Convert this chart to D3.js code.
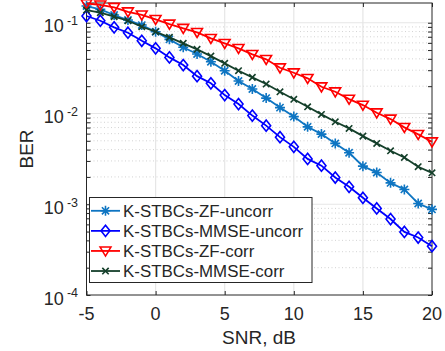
<!DOCTYPE html>
<html>
<head>
<meta charset="utf-8">
<script src="https://cdn.jsdelivr.net/npm/d3@7"></script>
<style>
html,body{margin:0;padding:0;background:#fff;}
svg{display:block;}
text{font-family:"Liberation Sans",Arial,Helvetica,sans-serif;fill:#262626;}
</style>
</head>
<body>
<svg id="chart" width="445" height="351"></svg>
<script>
const snr = d3.range(-5, 21, 1);
const zfUncorr = [0.1528,0.1405,0.1216,0.1071,0.0943,0.0796,0.0656,0.0536,0.0452,0.0372,0.0296,0.0228,0.0186,0.01478,0.01161,0.00924,0.00713,0.00593,0.00468,0.00369,0.00263,0.00224,0.00172,0.001456,0.00102,0.000877];
const mmseUncorr = [0.1186,0.1052,0.089,0.0776,0.0633,0.0522,0.0415,0.0342,0.0258,0.0215,0.01595,0.0127,0.00948,0.00735,0.00549,0.00429,0.00316,0.00266,0.00197,0.001556,0.001177,0.000899,0.000687,0.000496,0.00043,0.000345];
const zfCorr = [0.163,0.157,0.148,0.132,0.122,0.109,0.0968,0.0868,0.0784,0.0673,0.0593,0.0522,0.0448,0.0395,0.0319,0.0281,0.0244,0.0197,0.01735,0.0144,0.01238,0.01018,0.00868,0.00703,0.00588,0.00488];
const mmseCorr = [0.138,0.129,0.1165,0.1052,0.0903,0.0796,0.069,0.0593,0.0509,0.0429,0.0357,0.0296,0.025,0.0211,0.01735,0.01434,0.01186,0.00977,0.0081,0.00685,0.00563,0.00468,0.00388,0.00328,0.00259,0.00222];
const seriesNames = ["K-STBCs-ZF-uncorr","K-STBCs-MMSE-uncorr","K-STBCs-ZF-corr","K-STBCs-MMSE-corr"];
const xTicks = [-5,0,5,10,15,20];
const yTicks = [1e-4,1e-3,1e-2,1e-1];
const yTickExp = ["-4","-3","-2","-1"];

const series = [
  {name:seriesNames[0], values:zfUncorr, color:"#0e75c2", marker:"star"},
  {name:seriesNames[1], values:mmseUncorr, color:"#0000ff", marker:"diamond"},
  {name:seriesNames[2], values:zfCorr, color:"#ff0000", marker:"tri"},
  {name:seriesNames[3], values:mmseCorr, color:"#143f2a", marker:"x"}
];

const L = 86.5, R = 432, T = 3, B = 295;
const x = d3.scaleLinear().domain([-5,20]).range([L,R]);
const y = d3.scaleLog().domain([1e-4, Math.pow(10,-0.7825)]).range([B,T]);

const svg = d3.select("#chart");

// minor grid
const minorVals = [];
for (let e=-4; e<=-1; e++) for (let m=2; m<=9; m++) { const v=m*Math.pow(10,e); if (v<=y.domain()[1]) minorVals.push(v); }
svg.append("g").selectAll("line").data(minorVals).join("line")
  .attr("x1",L).attr("x2",R).attr("y1",d=>y(d)).attr("y2",d=>y(d))
  .attr("stroke","#c8c8c8").attr("stroke-width",0.8).attr("stroke-dasharray","1,2.5");
// major grid
svg.append("g").selectAll("line").data(yTicks.slice(1)).join("line")
  .attr("x1",L).attr("x2",R).attr("y1",d=>y(d)).attr("y2",d=>y(d))
  .attr("stroke","#e6e6e6").attr("stroke-width",1.2);
svg.append("g").selectAll("line").data(xTicks.slice(1,-1)).join("line")
  .attr("x1",d=>x(d)).attr("x2",d=>x(d)).attr("y1",T).attr("y2",B)
  .attr("stroke","#e6e6e6").attr("stroke-width",1.2);

// axes via d3 axis (inward ticks)
const axC = "#262626";
function styleAxis(g){ g.select(".domain").remove(); g.selectAll("line").attr("stroke",axC); g.selectAll("text").remove(); }
svg.append("g").attr("transform",`translate(0,${B})`).call(d3.axisBottom(x).tickValues(xTicks).tickSize(-4)).call(styleAxis);
svg.append("g").attr("transform",`translate(0,${T})`).call(d3.axisTop(x).tickValues(xTicks).tickSize(-4)).call(styleAxis);
const allY = yTicks.concat(minorVals);
svg.append("g").attr("transform",`translate(${L},0)`).call(d3.axisLeft(y).tickValues(allY).tickSize(-4)).call(styleAxis);
svg.append("g").attr("transform",`translate(${R},0)`).call(d3.axisRight(y).tickValues(allY).tickSize(-4)).call(styleAxis);
svg.append("rect").attr("x",L).attr("y",T).attr("width",R-L).attr("height",B-T)
  .attr("fill","none").attr("stroke",axC).attr("stroke-width",1);

// tick labels
svg.append("g").selectAll("text").data(xTicks).join("text")
  .attr("x",d=>x(d)).attr("y",320).attr("text-anchor","middle")
  .attr("font-size",18).text(d=>String(d));
const yl = svg.append("g").selectAll("text").data(yTicks).join("text")
  .attr("x",78).attr("y",d=>y(d)+9.7).attr("text-anchor","end").attr("font-size",18);
yl.append("tspan").text("10");
yl.append("tspan").attr("dx",3).attr("dy",-7.4).attr("font-size",12.5).text((d,i)=>yTickExp[i]);

// axis titles
svg.append("text").attr("x",259).attr("y",344).attr("text-anchor","middle").attr("font-size",19).text("SNR, dB");
svg.append("text").attr("transform","translate(33,149) rotate(-90)").attr("text-anchor","middle").attr("font-size",19).text("BER");

// markers
function markerPath(type){
  switch(type){
    case "star": { const r=5, a=3.6; return `M${-r},0H${r}M0,${-r}V${r}M${-a},${-a}L${a},${a}M${-a},${a}L${a},${-a}`; }
    case "diamond": return "M0,-5.6L4.5,0L0,5.6L-4.5,0Z";
    case "tri": return "M-5.4,-3.9L5.4,-3.9L0,5.1Z";
    case "x": { const a=3.2; return `M${-a},${-a}L${a},${a}M${-a},${a}L${a},${-a}`; }
  }
}

const line = d3.line().x((d,i)=>x(snr[i])).y(d=>y(d));
const plot = svg.append("g");
series.forEach(s=>{
  const g = plot.append("g");
  g.append("path").attr("d",line(s.values)).attr("fill","none").attr("stroke",s.color).attr("stroke-width",1.8);
  g.selectAll("path.m").data(s.values).join("path").attr("class","m")
    .attr("transform",(d,i)=>`translate(${x(snr[i])},${y(d)})`)
    .attr("d",markerPath(s.marker)).attr("fill","none").attr("stroke",s.color).attr("stroke-width",1.6);
});

// legend
const lg = svg.append("g");
lg.append("rect").attr("x",89.5).attr("y",197.5).attr("width",222.5).attr("height",85)
  .attr("fill","#fff").attr("stroke",axC).attr("stroke-width",1);
series.forEach((s,i)=>{
  const cy = 210.8 + 20.07*i;
  lg.append("line").attr("x1",91).attr("x2",120).attr("y1",cy).attr("y2",cy).attr("stroke",s.color).attr("stroke-width",1.8);
  lg.append("path").attr("transform",`translate(105.5,${cy})`).attr("d",markerPath(s.marker)).attr("fill","none").attr("stroke",s.color).attr("stroke-width",1.6);
  lg.append("text").attr("x",123).attr("y",cy+6).attr("font-size",16.9).text(s.name);
});
</script>
</body>
</html>
